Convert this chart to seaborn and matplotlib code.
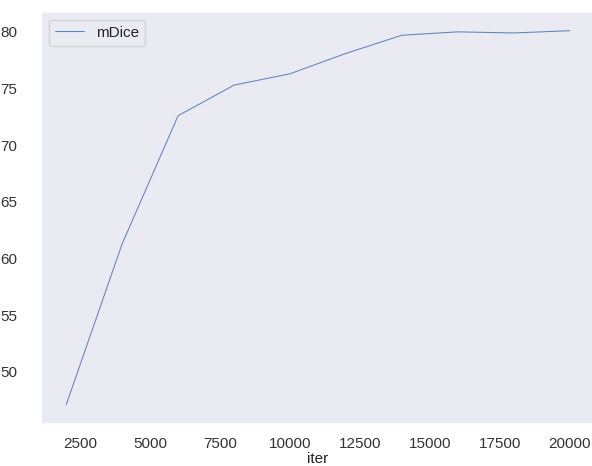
import matplotlib
matplotlib.use("Agg")
import matplotlib.pyplot as plt
import pandas as pd
import seaborn as sns

# values
iters = [2000, 4000, 6000, 8000, 10000, 12000, 14000, 16000, 18000, 20000]
mdice = [47.1, 61.3, 72.6, 75.3, 76.3, 78.1, 79.7, 80.0, 79.9, 80.1]
xticks = [2500, 5000, 7500, 10000, 12500, 15000, 17500, 20000]
yticks = [50, 55, 60, 65, 70, 75, 80]

sns.set_theme(style="dark")
plt.rcParams["font.family"] = ["Liberation Sans", "DejaVu Sans"]

df = pd.DataFrame({"iter": iters, "mDice": mdice})

fig = plt.figure(figsize=(5.92, 4.66), dpi=100)
ax = fig.add_axes([41 / 592, (466 - 423.5) / 466, 554 / 592, 411.5 / 466])

sns.lineplot(data=df, x="iter", y="mDice", label="mDice", linewidth=0.75,
             color="#4c72b0", alpha=0.85, ax=ax)

ax.set_xticks(xticks)
ax.set_yticks(yticks)
ax.tick_params(axis="both", labelsize=11, colors="#333333")
ax.tick_params(axis="x", pad=3.5)
ax.tick_params(axis="y", pad=11)
ax.set_xlabel("iter", fontsize=11, color="#222222", labelpad=1)
ax.set_ylabel("")
ax.legend(loc="upper left", fontsize=11, frameon=True, handlelength=1.9)

fig.savefig("out.png", dpi=100)
